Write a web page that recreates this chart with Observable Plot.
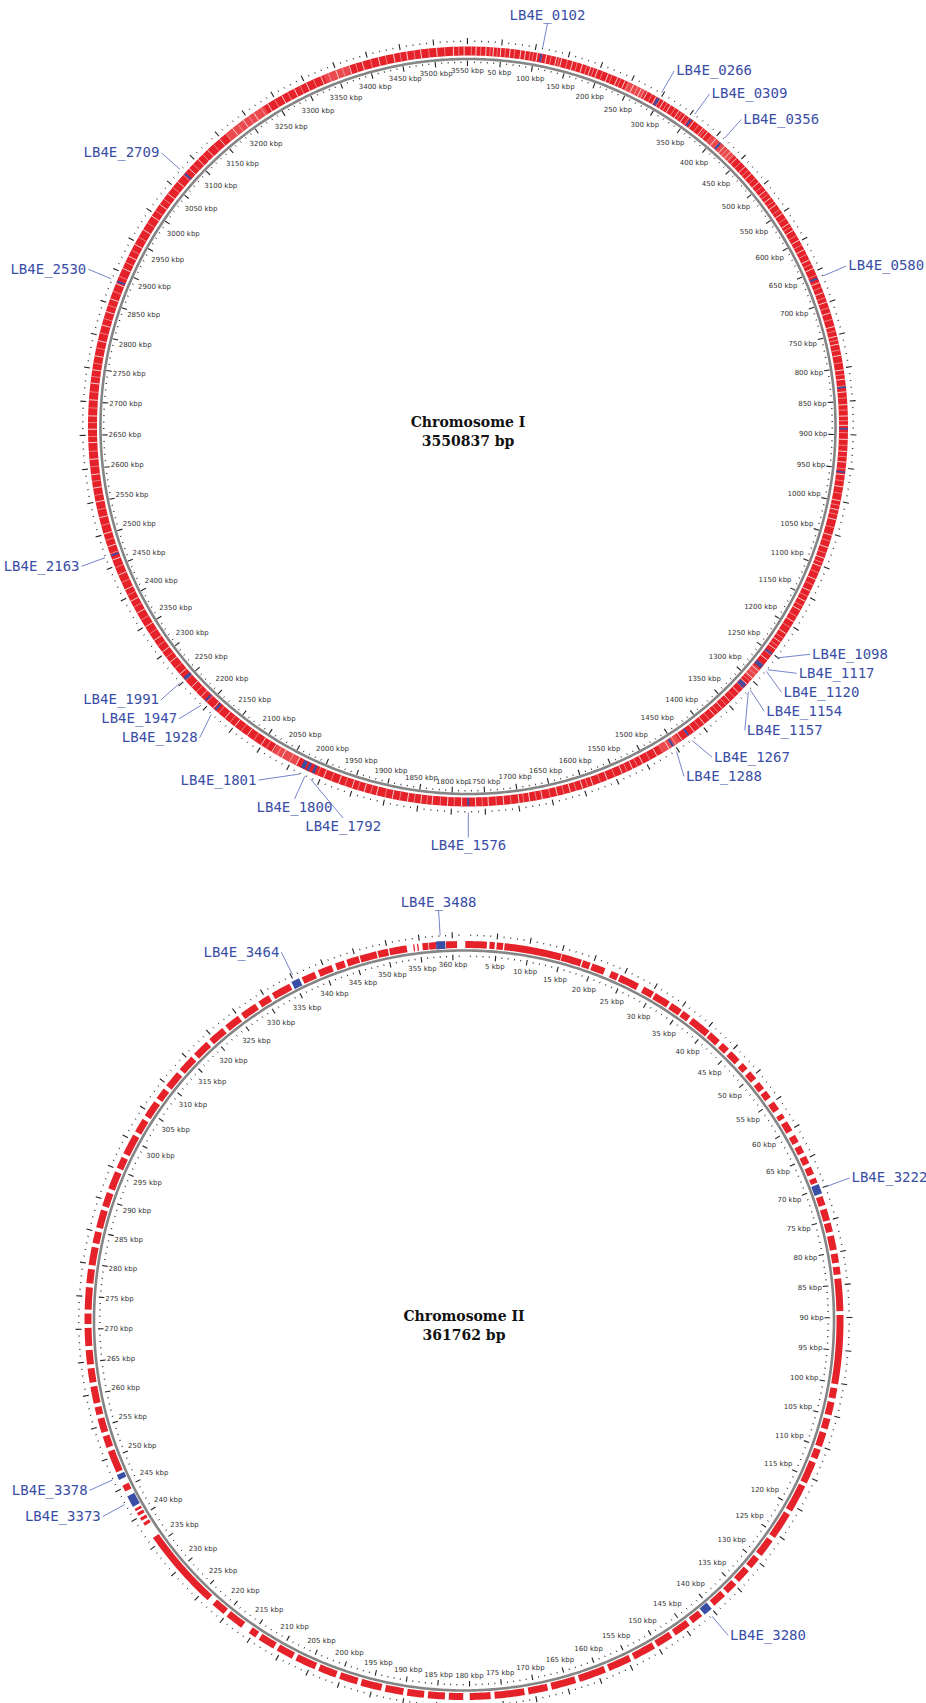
<!DOCTYPE html>
<html><head><meta charset="utf-8">
<script src="https://cdn.jsdelivr.net/npm/d3@7"></script>
<script src="https://cdn.jsdelivr.net/npm/@observablehq/plot@0.6"></script>
<style>html,body{margin:0;padding:0;background:#fff}</style>
</head><body><div id="chart"></div>
<script>
// ---------------- DATA ----------------
const chromNames = ["Chromosome I", "Chromosome II"];
const chromLengthsBp = [3550837, 361762];

// Chromosome I: labelled genes, position (kbp) and approximate length (kbp)
const genesI = ["LB4E_0102","LB4E_0266","LB4E_0309","LB4E_0356","LB4E_0580","LB4E_1098","LB4E_1117","LB4E_1120","LB4E_1154","LB4E_1157","LB4E_1267","LB4E_1288","LB4E_1576","LB4E_1792","LB4E_1800","LB4E_1801","LB4E_1928","LB4E_1947","LB4E_1991","LB4E_2163","LB4E_2530","LB4E_2709"];
const genePosI = [110, 297, 355, 411, 661, 1251, 1273, 1276, 1312, 1316, 1425, 1453, 1775, 2013, 2022, 2030, 2187, 2207, 2252, 2467, 2885, 3075];
const geneLenI = [3, 4, 3, 3, 3, 3, 3, 3, 4, 3, 3, 3, 3, 4, 4, 6, 3, 3, 5, 3, 3, 3];
// other highlighted (blue) genes without labels, kbp
const blueOtherI = [829, 891, 956];
// white gaps between genes on chromosome I, kbp (estimated)
const gapsI = [12, 27, 38, 49, 63, 79, 86, 104, 118, 133, 141, 158, 173, 186, 197, 214, 229, 241, 255, 268, 278, 293, 306, 318, 333, 344, 360, 377, 386, 402, 419, 431, 444, 462, 476, 493, 509, 522, 535, 551, 569, 581, 598, 614, 631, 645, 668, 684, 699, 716, 737, 752, 764, 781, 803, 817, 836, 855, 872, 886, 907, 925, 941, 960, 978, 999, 1013, 1028, 1052, 1071, 1088, 1101, 1122, 1141, 1158, 1173, 1193, 1214, 1229, 1242, 1262, 1283, 1297, 1309, 1327, 1345, 1361, 1376, 1396, 1415, 1437, 1460, 1481, 1505, 1522, 1539, 1563, 1586, 1602, 1621, 1641, 1664, 1683, 1699, 1722, 1745, 1764, 1785, 1806, 1829, 1846, 1866, 1889, 1913, 1932, 1951, 1972, 1996, 2041, 2065, 2082, 2101, 2126, 2149, 2168, 2191, 2216, 2236, 2262, 2285, 2304, 2325, 2349, 2373, 2393, 2412, 2436, 2460, 2481, 2501, 2526, 2550, 2571, 2591, 2614, 2639, 2659, 2679, 2703, 2728, 2748, 2769, 2792, 2816, 2837, 2857, 2881, 2906, 2926, 2946, 2971, 2995, 3016, 3036, 3059, 3085, 3104, 3124, 3148, 3173, 3193, 3212, 3237, 3261, 3282, 3302, 3326, 3350, 3371, 3391, 3416, 3439, 3459, 3480, 3504, 3529, 3545];
// fainter (pink) boundaries between genes on chromosome I, kbp (estimated)
const faintI = [5, 19, 33, 44, 56, 70, 93, 98, 111, 125, 137, 150, 165, 180, 191, 205, 220, 234, 247, 262, 273, 286, 300, 312, 326, 338, 351, 369, 381, 394, 410, 425, 437, 453, 469, 485, 501, 515, 529, 544, 560, 575, 590, 606, 622, 638, 656, 676, 692, 708, 726, 744, 758, 773, 792, 810, 827, 845, 863, 879, 897, 916, 933, 951, 969, 988, 1006, 1020, 1040, 1061, 1080, 1095, 1111, 1131, 1150, 1166, 1184, 1203, 1222, 1236, 1253, 1272, 1290, 1303, 1318, 1336, 1353, 1369, 1386, 1405, 1426, 1448, 1471, 1493, 1514, 1531, 1551, 1574, 1594, 1612, 1631, 1652, 1673, 1692, 1711, 1733, 1754, 1775, 1796, 1817, 1837, 1856, 1878, 1900, 1922, 1942, 1962, 1984, 2006, 2052, 2073, 2092, 2114, 2137, 2158, 2180, 2204, 2226, 2249, 2273, 2294, 2315, 2337, 2361, 2383, 2403, 2424, 2448, 2470, 2491, 2514, 2538, 2560, 2581, 2603, 2626, 2648, 2669, 2691, 2715, 2738, 2758, 2781, 2804, 2826, 2847, 2869, 2893, 2916, 2936, 2958, 2983, 3005, 3026, 3048, 3072, 3094, 3114, 3136, 3160, 3183, 3203, 3225, 3249, 3271, 3292, 3314, 3338, 3360, 3381, 3404, 3427, 3449, 3470, 3492, 3516, 3537];
// paler stretches on chromosome I, kbp
const paleI = [[245, 275], [395, 440], [1280, 1300], [1440, 1470], [2040, 2080], [3160, 3230], [3330, 3370]];

// Chromosome II: labelled genes (kbp)
const genesII = ["LB4E_3222","LB4E_3280","LB4E_3373","LB4E_3378","LB4E_3464","LB4E_3488"];
const geneStartII = [69.3, 140.0, 241.8, 246.4, 334.6, 357.5];
const geneEndII = [70.8, 141.4, 243.6, 247.2, 335.9, 358.9];
// gene blocks (red) on chromosome II, [start, end] kbp (estimated)
const blocksII = [[0.2,3.5],[3.9,4.7],[5.0,6.0],[6.2,15.0],[15.1,18.2],[18.4,19.6],[19.9,22.0],[23.0,24.2],[24.5,27.6],[28.5,30.2],[30.5,33.0],[33.4,35.2],[35.5,36.8],[37.3,40.5],[40.8,42.6],[43.2,44.5],[45.0,46.8],[47.5,48.6],[49.2,50.6],[51.3,52.5],[53.0,54.2],[55.0,56.4],[57.2,58.0],[58.6,60.2],[61.0,62.2],[62.8,64.0],[64.6,65.8],[66.4,67.6],[68.2,69.0],[71.2,72.6],[73.2,75.0],[75.4,76.8],[77.4,79.6],[80.2,81.6],[82.2,83.4],[84.0,89.0],[89.6,100.2],[100.8,102.4],[103.0,105.0],[105.6,107.2],[107.8,110.0],[110.5,112.0],[112.6,116.0],[116.5,120.8],[121.4,125.6],[126.2,129.0],[129.6,131.4],[132.0,134.2],[134.8,136.6],[137.2,139.4],[141.8,143.6],[144.2,146.8],[147.4,150.0],[150.5,154.0],[154.6,158.2],[158.8,163.0],[163.6,167.4],[168.0,171.0],[171.6,176.2],[176.8,180.0],[181.0,183.2],[183.8,186.4],[187.0,189.6],[190.2,193.0],[193.6,196.8],[197.4,200.2],[200.8,203.6],[204.2,207.4],[208.0,210.6],[211.2,213.8],[214.4,215.6],[217.0,219.8],[220.4,222.6],[223.6,236.2],[238.4,238.9],[239.3,239.8],[240.2,240.7],[241.0,241.4],[244.4,245.4],[247.6,251.0],[251.6,253.4],[254.0,256.2],[256.8,258.0],[258.6,261.2],[261.8,264.0],[264.6,266.8],[267.4,270.2],[270.8,272.4],[273.0,276.4],[277.0,279.2],[279.8,282.6],[283.2,285.0],[285.6,288.4],[289.0,291.2],[291.8,294.6],[295.2,297.0],[297.6,300.8],[301.4,303.6],[304.2,306.8],[307.4,309.2],[309.8,312.4],[313.0,315.6],[316.2,318.8],[319.4,322.0],[322.6,325.0],[325.6,328.2],[328.8,330.6],[331.2,334.2],[336.3,338.4],[339.0,341.2],[341.8,343.2],[343.6,345.5],[345.7,348.3],[348.5,350.1],[350.3,353.0],[354.0,354.2],[354.6,354.8],[355.4,356.3],[356.4,357.5],[359.0,360.7]];

// tick spacing (kbp): [major, minor] per chromosome
const tickMajor = [50, 5];
const tickMinor = [10, 1];

// ---------------- LAYOUT ----------------
const W = 926, H = 1703;
const centers = [[467.5, 426], [463.5, 1320]];
const RED = "#e52229", PALE = "#f07a7a", BLUE = "#3a4ea6", GREY = "#858585";
const ringR = [[371, 380], [372.5, 379.5]];
const degOf = (c, kbp) => kbp * 1000 / chromLengthsBp[c] * 360;
const polar = (c, r, deg) => {
  const a = deg * Math.PI / 180;
  return [centers[c][0] + r * Math.sin(a), centers[c][1] - r * Math.cos(a)];
};
function arc(c, r, k0, k1, id, extra = {}) {
  const d0 = degOf(c, k0), d1 = degOf(c, k1);
  const n = Math.max(2, Math.ceil(Math.abs(d1 - d0) / 0.5) + 1);
  return d3.range(n).map(i => {
    const [x, y] = polar(c, r, d0 + (d1 - d0) * i / (n - 1));
    return {id, x, y, ...extra};
  });
}

// ring geometry
const mid1 = (ringR[0][0] + ringR[0][1]) / 2;
const ringI = arc(0, mid1, 0, chromLengthsBp[0] / 1000, "ringI");
const paleArcs = paleI.flatMap(([a, b], i) => arc(0, mid1, a, b, "pale" + i));
const mid2 = (ringR[1][0] + ringR[1][1]) / 2;
const blockArcs = blocksII.flatMap(([a, b], i) => arc(1, mid2, a, b, "b" + i));
const blueArcs = [
  ...genePosI.flatMap((p, i) => arc(0, mid1, p - geneLenI[i] / 2, p + geneLenI[i] / 2, "gI" + i)),
  ...genesII.flatMap((g, i) => arc(1, mid2, geneStartII[i], geneEndII[i], "gII" + i))
];
const backbone = [0, 1].flatMap(c => arc(c, c === 0 ? 367.5 : 370, 0, chromLengthsBp[c] / 1000, "bb" + c));
const gapLinks = gapsI.map(k => ({c: 0, k}));
const faintLinks = faintI.map(k => ({c: 0, k}));
const blueOther = blueOtherI.map(k => ({c: 0, k}));

// ticks
const ticks = [];
[0, 1].forEach(c => {
  const L = chromLengthsBp[c] / 1000, step = tickMinor[c], per = tickMajor[c] / tickMinor[c];
  for (let i = 1; i * step <= L; i++) ticks.push({c, k: i * step, major: i % per === 0});
});
const majors = ticks.filter(d => d.major), minors = ticks.filter(d => !d.major);
const tickLabels = majors.map(d => {
  const deg = degOf(d.c, d.k), a = deg * Math.PI / 180;
  const w = String(d.k).length * 4.45 + 14.8, h = 7;
  const r = 359.5 - (Math.abs(Math.sin(a)) * w / 2 + Math.abs(Math.cos(a)) * h / 2);
  const [x, y] = polar(d.c, r, deg);
  return {x, y, label: `${d.k} kbp`};
});

// gene label placement (spread vertically on each side of each circle)
function placeLabels(c, names, kbps) {
  const R = 411, gap = 19;
  const [cx, cy] = centers[c];
  const items = names.map((name, i) => {
    const deg = degOf(c, kbps[i]);
    const [, y0] = polar(c, R, deg);
    return {c, name, deg, y0, side: Math.sin(deg * Math.PI / 180) >= 0 ? 1 : -1};
  });
  for (const side of [1, -1]) {
    const arr = items.filter(d => d.side === side).sort((a, b) => a.y0 - b.y0);
    let clusters = arr.map(d => ({items: [d], top: d.y0}));
    let merged = true;
    while (merged) {
      merged = false;
      for (let i = 1; i < clusters.length; i++) {
        const p = clusters[i - 1], q = clusters[i];
        if (q.top < p.top + p.items.length * gap) {
          const its = [...p.items, ...q.items];
          const mean = d3.mean(its, d => d.y0);
          clusters.splice(i - 1, 2, {items: its, top: mean - (its.length - 1) * gap / 2});
          merged = true; break;
        }
      }
    }
    for (const cl of clusters) cl.items.forEach((d, j) => {
      d.y = cl.top + j * gap;
      const dy = d.y - cy;
      d.x = cx + side * Math.sqrt(Math.max(R * R - dy * dy, 0));
      const s = (d.x - cx) / R;
      d.anchor = s > 0.44 ? "start" : s < -0.44 ? "end" : "middle";
      d.tx = d.x + (d.anchor === "start" ? 2 : d.anchor === "end" ? -2 : 0);
      d.ty = d.y + (d.anchor === "middle" ? (dy < 0 ? -8 : 8) : 0);
      const [sx, sy] = polar(c, 386, d.deg);
      d.sx = sx; d.sy = sy;
    });
  }
  return items;
}
const labels = [
  ...placeLabels(0, genesI, genePosI),
  ...placeLabels(1, genesII, geneStartII.map((s, i) => (s + geneEndII[i]) / 2))
];
const titles = [0, 1].flatMap(c => [
  {x: centers[c][0], y: centers[c][1] - 4, t: chromNames[c]},
  {x: centers[c][0], y: centers[c][1] + 15, t: `${chromLengthsBp[c]} bp`}
]);

const radial = (r1, r2) => ({
  x1: d => polar(d.c, r1, degOf(d.c, d.k))[0], y1: d => polar(d.c, r1, degOf(d.c, d.k))[1],
  x2: d => polar(d.c, r2, degOf(d.c, d.k))[0], y2: d => polar(d.c, r2, degOf(d.c, d.k))[1]
});
const labelText = anchor => Plot.text(labels.filter(d => d.anchor === anchor), {
  x: "tx", y: "ty", text: "name", textAnchor: anchor, fontSize: 14,
  fontFamily: "DejaVu Sans Mono", fill: "#3a4ea6"
});

const chart = Plot.plot({
  width: W, height: H, margin: 0,
  x: {domain: [0, W], range: [0, W], axis: null},
  y: {domain: [0, H], range: [0, H], axis: null},
  style: {background: "#fff"},
  marks: [
    // backbone circles
    Plot.line(backbone, {x: "x", y: "y", z: "id", stroke: GREY, strokeWidth: 2.6, strokeLinecap: "butt"}),
    // chromosome I gene ring
    Plot.line(ringI, {x: "x", y: "y", z: "id", stroke: RED, strokeWidth: ringR[0][1] - ringR[0][0], strokeLinecap: "butt"}),
    Plot.line(paleArcs, {x: "x", y: "y", z: "id", stroke: PALE, strokeWidth: ringR[0][1] - ringR[0][0], strokeLinecap: "butt", strokeOpacity: 0.45}),
    Plot.link(faintLinks, {...radial(ringR[0][0], ringR[0][1]), stroke: "#fff", strokeWidth: 0.8, strokeOpacity: 0.5}),
    Plot.link(gapLinks, {...radial(ringR[0][0], ringR[0][1]), stroke: "#fff", strokeWidth: 0.9, strokeOpacity: 0.85}),
    Plot.link(blueOther, {...radial(ringR[0][0], ringR[0][1]), stroke: BLUE, strokeWidth: 1.6}),
    // chromosome II gene blocks
    Plot.line(blockArcs, {x: "x", y: "y", z: "id", stroke: RED, strokeWidth: ringR[1][1] - ringR[1][0], strokeLinecap: "butt"}),
    // highlighted genes
    Plot.line(blueArcs, {x: "x", y: "y", z: "id", stroke: BLUE, strokeWidth: 8, strokeLinecap: "butt"}),
    // ticks outside and inside
    Plot.link(majors, {...radial(382.5, 388.5), stroke: "#222", strokeWidth: 1.1}),
    Plot.link(minors, {...radial(384.5, 386), stroke: "#333", strokeWidth: 1}),
    Plot.link(majors, {...radial(360.5, 366), stroke: "#222", strokeWidth: 1.1}),
    Plot.link(minors, {...radial(363.5, 365), stroke: "#333", strokeWidth: 1}),
    Plot.text(tickLabels, {x: "x", y: "y", text: "label", fontSize: 7, fontFamily: "DejaVu Sans", fill: "#333"}),
    // gene labels
    Plot.link(labels, {x1: "sx", y1: "sy", x2: "x", y2: "y", stroke: "#6676c4", strokeWidth: 0.9}),
    labelText("start"), labelText("end"), labelText("middle"),
    // titles
    Plot.text(titles, {x: "x", y: "y", text: "t", fontSize: 14, fontWeight: "bold", fontFamily: "DejaVu Serif", fill: "#111"})
  ]
});
document.getElementById("chart").append(chart);
</script></body></html>
